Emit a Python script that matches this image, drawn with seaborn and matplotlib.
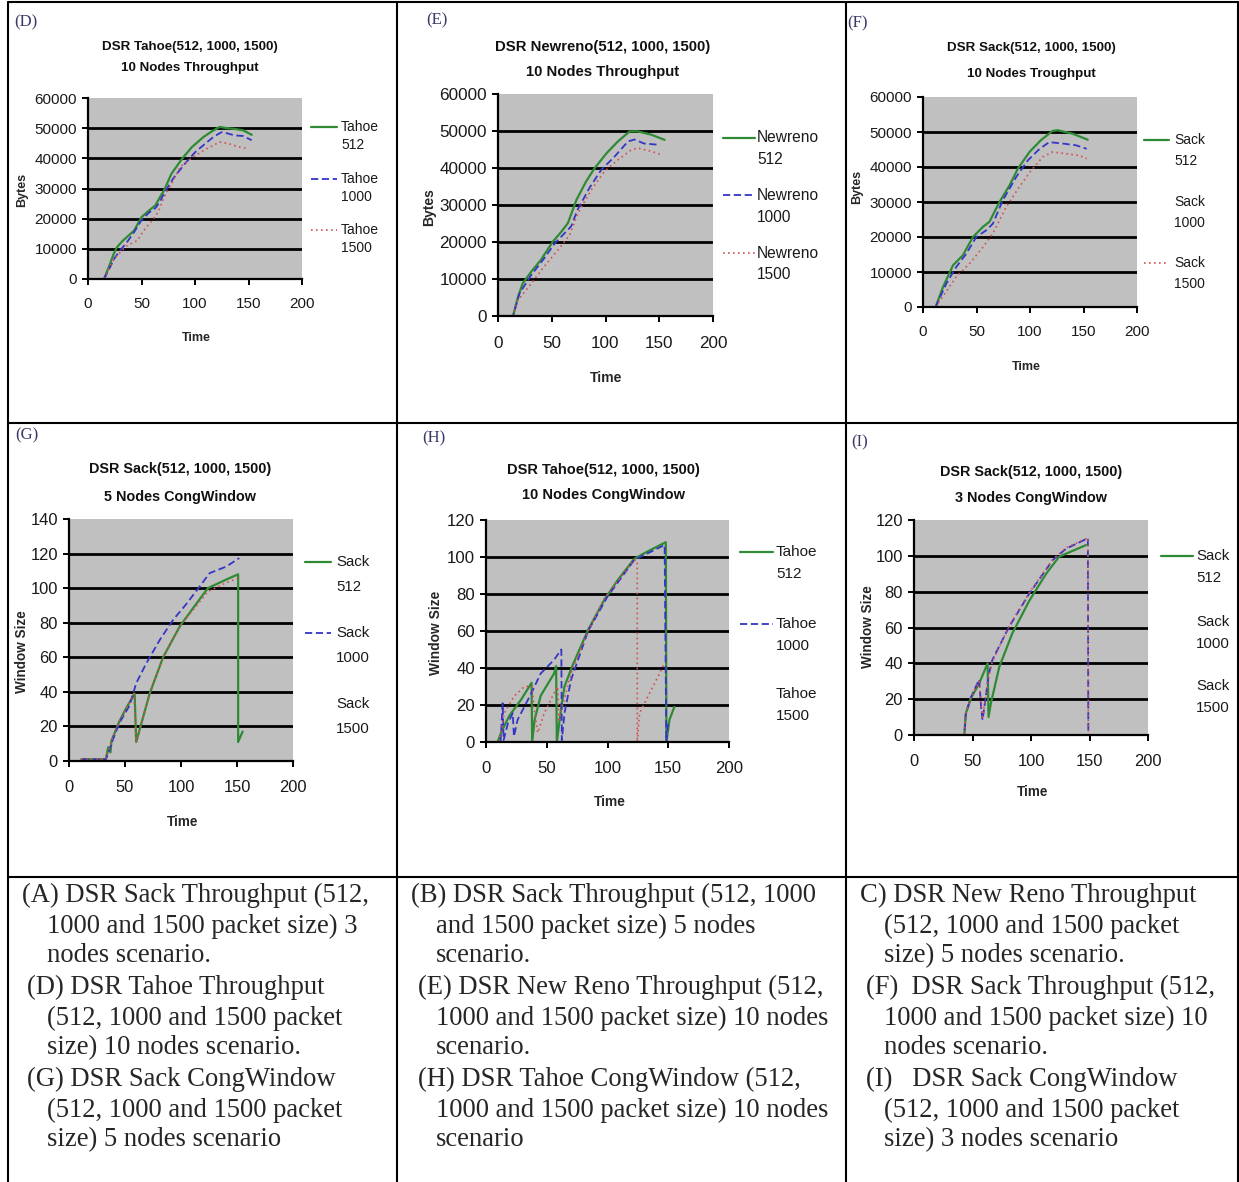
import matplotlib
matplotlib.use("Agg")
import matplotlib.pyplot as plt
import seaborn as sns
from matplotlib.lines import Line2D

W, H = 1239, 1182

# ---------------- data ----------------
TIME_TICKS = [0, 50, 100, 150, 200]
BYTES_TICKS = [0, 10000, 20000, 30000, 40000, 50000, 60000]
WIN_TICKS_140 = [0, 20, 40, 60, 80, 100, 120, 140]
WIN_TICKS_120 = [0, 20, 40, 60, 80, 100, 120]
SIZES = ["512", "1000", "1500"]

# (D) Tahoe throughput, 10 nodes
D_X512 = [15, 20, 24, 27, 32, 36, 43, 50, 57, 63, 67, 71, 78, 88, 97, 108, 116, 123, 130, 136, 145, 153]
D_Y512 = [0, 4500, 8300, 10500, 12500, 13800, 16000, 20500, 22700, 24400, 27000, 29300, 34900,
          39900, 43700, 47100, 49000, 50400, 50000, 49800, 49300, 47800]
D_X1000 = [15, 20, 25, 30, 36, 43, 50, 57, 63, 67, 72, 80, 90, 100, 110, 118, 125, 130, 137, 145, 153]
D_Y1000 = [0, 3500, 7000, 9500, 12000, 15500, 19500, 22000, 23500, 25500, 29000, 33500, 38000,
           42000, 45000, 47300, 48700, 48300, 47600, 47400, 46000]
D_X1500 = [15, 20, 25, 30, 36, 46, 52, 61, 66, 71, 78, 86, 98, 111, 123, 132, 142, 150]
D_Y1500 = [0, 4000, 7000, 8800, 11000, 12700, 16000, 19900, 22500, 27100, 31500, 37100, 40400,
           43200, 45400, 44800, 43700, 43200]

# (E) Newreno throughput, 10 nodes
E_X512 = [0, 14, 18.6, 23, 31, 40, 51, 59, 65, 73, 82, 90, 101, 111.6, 122.5, 130, 142.6, 155]
E_Y512 = [0, 0, 5200, 8800, 12000, 15200, 20100, 22800, 25100, 31400, 36400, 40000, 44000,
          47200, 49900, 49900, 49000, 47600]
E_X1000 = [0, 14, 20, 31, 43, 53, 62, 68, 74, 85, 96, 108.5, 121, 127, 136, 149]
E_Y1000 = [0, 0, 6100, 11100, 15600, 19700, 22400, 24200, 28700, 34600, 39500, 43100, 47200,
           47700, 46600, 46300]
E_X1500 = [14, 18.6, 31, 43, 56, 66.7, 74.4, 86.8, 99, 111.6, 124, 130, 142.6, 152]
E_Y1500 = [0, 4300, 8800, 13400, 17900, 21900, 27800, 34100, 39100, 42200, 44900, 45400, 44500, 43600]

# (F) Sack throughput, 10 nodes
F_X512 = [11.8, 18.7, 28, 37.3, 46.7, 56, 62, 71.5, 81, 88.6, 99.5, 110, 121, 126, 140, 154]
F_Y512 = [0, 5700, 11900, 14800, 20000, 22900, 24300, 30000, 34800, 39500, 44300, 47600, 50300,
          50500, 49500, 47800]
F_X1000 = [11.8, 21.8, 31, 40.4, 49.8, 59, 65.3, 74.6, 87, 98, 109, 118, 130.6, 143, 153]
F_Y1000 = [0, 6700, 11400, 15200, 20000, 21900, 23800, 30500, 37100, 41900, 45200, 47100,
           46700, 46200, 45200]
F_X1500 = [11.8, 31, 43.5, 56, 65.3, 77.8, 90, 101, 112, 121, 133.7, 146, 153]
F_Y1500 = [0, 8600, 12400, 17100, 21000, 28600, 34300, 39000, 42900, 44300, 43800, 43300, 42400]

# (G) Sack congestion window, 5 nodes
G_X512 = [11, 33, 35, 37, 38, 40, 45, 51, 58.6, 60, 63, 72, 84, 99, 113.7, 124, 140.5, 151, 151, 155]
G_Y512 = [1, 1, 8, 5, 12, 15, 23, 30.5, 39, 11, 18, 39, 60, 78, 91, 100, 105, 108, 11, 17]
G_X1000 = [11, 33, 39, 45, 54, 60, 69, 81, 93, 105, 116.7, 125.6, 140.5, 152]
G_Y1000 = [1, 1, 12, 22, 32, 45, 56.5, 70, 81.7, 91, 101, 108.7, 112.5, 117.4]
G_X1500 = [11, 33, 38, 45, 51, 58, 60, 63, 72, 84, 99, 114, 124, 140, 152]
G_Y1500 = [1, 1, 12, 23, 30, 39, 11, 18, 39, 60, 78, 90, 98, 103, 106]

# (H) Tahoe congestion window, 10 nodes
H_X512 = [9.6, 12.4, 19, 29, 37.5, 38, 40, 45, 56, 57.7, 58.3, 62, 64.6, 71, 84, 97.5, 108.5, 122,
          133, 148, 148.5, 151, 155]
H_Y512 = [0, 5, 14, 23, 32, 0, 12, 25, 37, 41, 0, 19, 30, 41, 60.6, 77, 87.6, 99, 103, 108, 0, 12, 19]
H_X1000 = [12, 13.7, 14.5, 18, 22, 23, 26, 37, 45, 56, 62, 62.4, 64.6, 70, 84, 100, 122, 147, 148.4, 150]
H_Y1000 = [0, 21, 1, 10, 15.6, 3, 12, 26, 37, 44.4, 50, 1, 15.6, 33.6, 60, 78.6, 98.4, 106.5, 0, 11]
H_X1500 = [11, 15, 23, 31.6, 38, 40, 42.6, 48, 56, 59, 60, 70, 84, 97.5, 122, 124.5, 124.5, 126.4,
           132, 139, 147]
H_Y1500 = [0, 15.6, 24.6, 30, 30, 15.6, 5, 15.6, 26.4, 30, 12, 37, 60, 77.7, 98.4, 98, 0, 15.6,
           23, 32, 42.6]

# (I) Sack congestion window, 3 nodes
I_X512 = [10, 43, 44.3, 48.6, 55.7, 62.9, 63.7, 65.7, 72.9, 84, 98.6, 112.9, 124, 147]
I_Y512 = [0, 0, 12, 20.5, 28.8, 40, 10, 17.7, 38, 56.7, 75, 90, 99.5, 106]
I_X1000 = [10, 43, 44.3, 48.6, 55.7, 57.5, 58.6, 64, 67, 81.4, 98.6, 118.6, 130, 148.6, 149, 153]
I_Y1000 = [0, 0, 12, 21, 31, 14, 8.4, 34, 42, 60.5, 79, 97.7, 104, 109.8, 0, 0]
I_X1500 = [10, 43, 44.3, 48.6, 55.7, 57.5, 58.6, 64, 67, 81.4, 98.6, 118.6, 130, 148.6, 149, 153]
I_Y1500 = [0, 0, 12, 21, 30, 16, 10, 33, 41, 61, 79.5, 98, 104.5, 110, 0, 0]

# caption cells of the bottom row
CAPTION_A = ["(A) DSR Sack Throughput (512,", "1000 and 1500 packet size) 3", "nodes scenario.",
             "(D) DSR Tahoe Throughput", "(512, 1000 and 1500 packet", "size) 10 nodes scenario.",
             "(G) DSR Sack CongWindow", "(512, 1000 and 1500 packet", "size) 5 nodes scenario"]
CAPTION_B = ["(B) DSR Sack Throughput (512, 1000", "and 1500 packet size) 5 nodes", "scenario.",
             "(E) DSR New Reno Throughput (512,", "1000 and 1500 packet size) 10 nodes", "scenario.",
             "(H) DSR Tahoe CongWindow (512,", "1000 and 1500 packet size) 10 nodes", "scenario"]
CAPTION_C = ["C) DSR New Reno Throughput", "(512, 1000 and 1500 packet", "size) 5 nodes scenario.",
             "(F)  DSR Sack Throughput (512,", "1000 and 1500 packet size) 10", "nodes scenario.",
             "(I)   DSR Sack CongWindow", "(512, 1000 and 1500 packet", "size) 3 nodes scenario"]

# ---------------- styles ----------------
GREEN, BLUE, RED = "#2e8b34", "#3535c8", "#d45050"
STYLES = {
    "512": dict(color=GREEN, linestyle="-", linewidth=1.6),
    "1000": dict(color=BLUE, linestyle=(0, (4, 2)), linewidth=1.3),
    "1500": dict(color=RED, linestyle=(0, (1, 2)), linewidth=1.2),
}
SANS = ["Liberation Sans", "DejaVu Sans"]
SERIF = ["Liberation Serif", "DejaVu Serif"]

sns.set_style("white")
plt.rcParams["font.family"] = SANS


def fx(x):
    return x / W


def fy(y):
    return 1 - y / H


PANELS = [
    dict(tag="(D)", tag_xy=(26, 22), box=(88, 98, 302, 279), ymax=60000, yticks=BYTES_TICKS,
         title=["DSR Tahoe(512, 1000, 1500)", "10 Nodes Throughput"], title_x=190, title_y=(47, 68),
         ylabel="Bytes", ylabel_xy=(22, 190), xlabel_xy=(196, 338), k=1.0,
         series=[(D_X512, D_Y512), (D_X1000, D_Y1000), (D_X1500, D_Y1500)],
         name="Tahoe", leg_x=(311, 337, 341), leg_y=(127, 179, 230), leg_dy=18, leg_show=(1, 1, 1)),
    dict(tag="(E)", tag_xy=(437, 20), box=(498, 94, 713, 316), ymax=60000, yticks=BYTES_TICKS,
         title=["DSR Newreno(512, 1000, 1500)", "10 Nodes Throughput"], title_x=603, title_y=(47, 72),
         ylabel="Bytes", ylabel_xy=(429, 207), xlabel_xy=(606, 378), k=1.12,
         series=[(E_X512, E_Y512), (E_X1000, E_Y1000), (E_X1500, E_Y1500)],
         name="Newreno", leg_x=(723, 755, 757), leg_y=(138, 195, 253), leg_dy=22, leg_show=(1, 1, 1)),
    dict(tag="(F)", tag_xy=(857, 23), box=(923, 97, 1137, 307), ymax=60000, yticks=BYTES_TICKS,
         title=["DSR Sack(512, 1000, 1500)", "10 Nodes Troughput"], title_x=1031, title_y=(48, 74),
         ylabel="Bytes", ylabel_xy=(857, 187), xlabel_xy=(1026, 367), k=1.0,
         series=[(F_X512, F_Y512), (F_X1000, F_Y1000), (F_X1500, F_Y1500)],
         name="Sack", leg_x=(1144, 1169, 1174), leg_y=(140, 202, 263), leg_dy=21, leg_show=(1, 0, 1)),
    dict(tag="(G)", tag_xy=(27, 435), box=(69, 519, 293, 761), ymax=140, yticks=WIN_TICKS_140,
         title=["DSR Sack(512, 1000, 1500)", "5 Nodes CongWindow"], title_x=180, title_y=(469, 497),
         ylabel="Window Size", ylabel_xy=(22, 652), xlabel_xy=(183, 822), k=1.08,
         series=[(G_X512, G_Y512), (G_X1000, G_Y1000), (G_X1500, G_Y1500)],
         name="Sack", leg_x=(305, 331, 336), leg_y=(562, 633, 704), leg_dy=25, leg_show=(1, 1, 0)),
    dict(tag="(H)", tag_xy=(434, 438), box=(486, 520, 729, 742), ymax=120, yticks=WIN_TICKS_120,
         title=["DSR Tahoe(512, 1000, 1500)", "10 Nodes CongWindow"], title_x=603, title_y=(470, 495),
         ylabel="Window Size", ylabel_xy=(436, 633), xlabel_xy=(610, 802), k=1.1,
         series=[(H_X512, H_Y512), (H_X1000, H_Y1000), (H_X1500, H_Y1500)],
         name="Tahoe", leg_x=(740, 773, 776), leg_y=(552, 624, 694), leg_dy=22, leg_show=(1, 1, 0)),
    dict(tag="(I)", tag_xy=(860, 442), box=(914, 520, 1148, 735), ymax=120, yticks=WIN_TICKS_120,
         title=["DSR Sack(512, 1000, 1500)", "3 Nodes CongWindow"], title_x=1031, title_y=(472, 498),
         ylabel="Window Size", ylabel_xy=(868, 627), xlabel_xy=(1033, 792), k=1.08,
         series=[(I_X512, I_Y512), (I_X1000, I_Y1000), (I_X1500, I_Y1500)],
         name="Sack", leg_x=(1161, 1193, 1196), leg_y=(556, 622, 686), leg_dy=22, leg_show=(1, 0, 0)),
]


def draw_panel(fig, p):
    l, t, r, b = p["box"]
    k = p["k"]
    ax = fig.add_axes([fx(l), fy(b), (r - l) / W, (b - t) / H])
    ax.set_facecolor("#c0c0c0")

    for size, (xs, ys) in zip(SIZES, p["series"]):
        sns.lineplot(x=xs, y=ys, ax=ax, estimator=None, sort=False, legend=False, **STYLES[size])

    # black gridlines on the inner ticks only
    for v in p["yticks"][1:-1]:
        ax.axhline(v, color="black", linewidth=2.0, zorder=1)

    ax.set_xlim(0, 200)
    ax.set_ylim(0, p["ymax"])
    ax.set_xticks(TIME_TICKS)
    ax.set_yticks(p["yticks"])
    ax.set_xlabel("")
    ax.set_ylabel("")
    for side in ["top", "right"]:
        ax.spines[side].set_visible(False)
    for side in ["left", "bottom"]:
        ax.spines[side].set_visible(True)
        ax.spines[side].set_color("black")
        ax.spines[side].set_linewidth(1.6)
    ax.tick_params(axis="both", direction="out", length=4, width=1.4, color="black",
                   labelsize=11 * k, pad=4, left=True, bottom=True, labelcolor="#1a1a1a")
    ax.tick_params(axis="x", pad=9 * k)

    # panel tag, title and axis labels
    fig.text(fx(p["tag_xy"][0]), fy(p["tag_xy"][1]), p["tag"], family=SERIF, fontsize=12,
             color="#3a3a66", ha="center", va="center")
    for line, yy in zip(p["title"], p["title_y"]):
        fig.text(fx(p["title_x"]), fy(yy), line, fontsize=9.6 * k, fontweight="bold",
                 ha="center", va="center", color="#111111")
    fig.text(fx(p["ylabel_xy"][0]), fy(p["ylabel_xy"][1]), p["ylabel"], rotation=90,
             fontsize=9 * k, fontweight="bold", ha="center", va="center")
    fig.text(fx(p["xlabel_xy"][0]), fy(p["xlabel_xy"][1]), "Time",
             fontsize=9 * k, fontweight="bold", ha="center", va="center")

    # legend to the right of the plot area
    x0, x1, xt = p["leg_x"]
    for size, yy, show in zip(SIZES, p["leg_y"], p["leg_show"]):
        if show:
            st = STYLES[size]
            fig.add_artist(Line2D([fx(x0), fx(x1)], [fy(yy), fy(yy)], transform=fig.transFigure,
                                  color=st["color"], linestyle=st["linestyle"], linewidth=st["linewidth"]))
        fig.text(fx(xt), fy(yy), p["name"], fontsize=10 * k, ha="left", va="center", color="#1a1a1a")
        fig.text(fx(xt), fy(yy + p["leg_dy"]), size, fontsize=10 * k, ha="left", va="center",
                 color="#1a1a1a")


fig = plt.figure(figsize=(W / 100, H / 100), dpi=100)
fig.patch.set_facecolor("white")

for p in PANELS:
    draw_panel(fig, p)

# table rules
rule = dict(transform=fig.transFigure, color="black", linewidth=1.5)
for xv in [8, 397, 846, 1238]:
    fig.add_artist(Line2D([fx(xv), fx(xv)], [fy(2), fy(1182)], **rule))
for yv in [2, 423, 877]:
    fig.add_artist(Line2D([fx(8), fx(1238)], [fy(yv), fy(yv)], **rule))

# caption text
LINE_Y = [895, 926, 956, 987, 1018, 1048, 1079, 1110, 1140]
CAPTION_X = [
    (CAPTION_A, [22, 47, 47, 27, 47, 47, 27, 47, 47]),
    (CAPTION_B, [411, 436, 436, 418, 436, 436, 418, 436, 436]),
    (CAPTION_C, [860, 884, 884, 866, 884, 884, 866, 884, 884]),
]
for lines, xs in CAPTION_X:
    for line, xv, yv in zip(lines, xs, LINE_Y):
        fig.text(fx(xv), fy(yv), line, family=SERIF, fontsize=19.2, ha="left", va="center")

fig.savefig("out.png", dpi=100)
